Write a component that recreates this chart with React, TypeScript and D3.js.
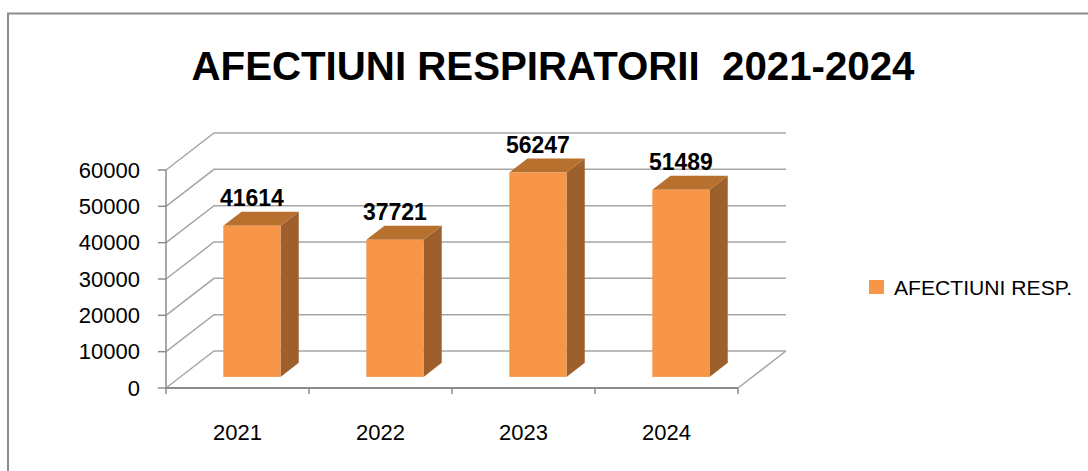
import React from "react";
import * as d3 from "d3";

const categories: string[] = ["2021", "2022", "2023", "2024"];
const values: number[] = [41614, 37721, 56247, 51489];
const yTicks: number[] = [0, 10000, 20000, 30000, 40000, 50000, 60000];
const seriesName = "AFECTIUNI RESP.";
const title = "AFECTIUNI RESPIRATORII  2021-2024";

const W = 1088;
const H = 471;
const FONT = "'Liberation Sans', Arial, sans-serif";

// 3D geometry
const plotLeft = 166;
const plotRight = 738;
const depthDx = 48;
const depthDy = -37;
const barDepthStart = 0.3;
const barDepthEnd = 0.68;

const GRID = "#a6a6a6";
const AXIS = "#8c8c8c";
const FRONT = "#f79646";
const SIDE = "#9d5f2c";
const TOP = "#b8702f";

export default function App() {
  const y = d3.scaleLinear().domain([0, 60000]).range([388, 170]);
  const x = d3
    .scaleBand<string>()
    .domain(categories)
    .range([plotLeft, plotRight])
    .paddingInner(0.6)
    .paddingOuter(0.3);

  const step = x.step();
  const bw = x.bandwidth();
  const fdx = depthDx * barDepthStart;
  const fdy = depthDy * barDepthStart;
  const sdx = depthDx * (barDepthEnd - barDepthStart);
  const sdy = depthDy * (barDepthEnd - barDepthStart);

  const backLeft = plotLeft + depthDx;
  const backRight = plotRight + depthDx;

  const catTicks = d3.range(categories.length + 1).map((i) => plotLeft + i * step);

  return (
    <svg
      width={W}
      height={H}
      style={{ position: "absolute", left: 0, top: 0, background: "#fff" }}
    >
      <rect x={0} y={0} width={W} height={H} fill="#fff" />
      <rect
        x={8}
        y={13.5}
        width={W + 20}
        height={H + 20}
        fill="none"
        stroke="#8c8c8c"
        strokeWidth={2}
      />
      <text
        x={553}
        y={80}
        textAnchor="middle"
        fontFamily={FONT}
        fontWeight="bold"
        fontSize={41}
        fill="#000"
        textLength={723}
        lengthAdjust="spacingAndGlyphs"
        style={{ whiteSpace: "pre" }}
      >
        {title}
      </text>

      {/* gridlines: side wall diagonals + back wall horizontals */}
      {yTicks.map((t) => (
        <g key={"g" + t}>
          <polyline
            points={`${plotLeft},${y(t)} ${backLeft},${y(t) + depthDy} ${backRight},${y(t) + depthDy}`}
            fill="none"
            stroke={GRID}
            strokeWidth={1.5}
          />
        </g>
      ))}
      {/* floor right edge */}
      <line
        x1={plotRight}
        y1={y(0)}
        x2={backRight}
        y2={y(0) + depthDy}
        stroke={GRID}
        strokeWidth={1.5}
      />
      {/* vertical axis */}
      <line x1={plotLeft} y1={y(60000)} x2={plotLeft} y2={y(0)} stroke={AXIS} strokeWidth={1.5} />
      {yTicks.map((t) => (
        <g key={"t" + t}>
          <line x1={plotLeft - 8} y1={y(t)} x2={plotLeft} y2={y(t)} stroke={AXIS} strokeWidth={1.5} />
          <text
            x={140}
            y={y(t) + 7.5}
            textAnchor="end"
            fontFamily={FONT}
            fontSize={22}
            fill="#000"
          >
            {t}
          </text>
        </g>
      ))}
      {/* horizontal axis */}
      <line x1={plotLeft} y1={y(0)} x2={plotRight} y2={y(0)} stroke={AXIS} strokeWidth={2} />
      {catTicks.map((cx, i) => (
        <line key={"ct" + i} x1={cx} y1={y(0)} x2={cx} y2={y(0) + 6} stroke={AXIS} strokeWidth={1.5} />
      ))}
      {categories.map((c) => (
        <text
          key={"cl" + c}
          x={(x(c) as number) + bw / 2}
          y={440}
          textAnchor="middle"
          fontFamily={FONT}
          fontSize={22}
          fill="#000"
        >
          {c}
        </text>
      ))}

      {/* bars */}
      {categories.map((c, i) => {
        const x0 = (x(c) as number) + fdx;
        const x1 = x0 + bw;
        const yb = y(0) + fdy;
        const yt = y(values[i]) + fdy;
        return (
          <g key={"b" + c}>
            <polygon
              points={`${x1},${yt} ${x1 + sdx},${yt + sdy} ${x1 + sdx},${yb + sdy} ${x1},${yb}`}
              fill={SIDE}
            />
            <polygon
              points={`${x0},${yt} ${x1},${yt} ${x1 + sdx},${yt + sdy} ${x0 + sdx},${yt + sdy}`}
              fill={TOP}
            />
            <rect x={x0} y={yt} width={bw} height={yb - yt} fill={FRONT} />
            <text
              x={x0 + bw / 2}
              y={yt - 20}
              textAnchor="middle"
              fontFamily={FONT}
              fontWeight="bold"
              fontSize={23}
              fill="#000"
            >
              {values[i]}
            </text>
          </g>
        );
      })}

      {/* legend */}
      <rect x={869} y={280} width={15} height={14} fill={FRONT} />
      <text
        x={894}
        y={295}
        fontFamily={FONT}
        fontSize={21}
        fill="#000"
        textLength={178}
        lengthAdjust="spacingAndGlyphs"
      >
        {seriesName}
      </text>
    </svg>
  );
}
